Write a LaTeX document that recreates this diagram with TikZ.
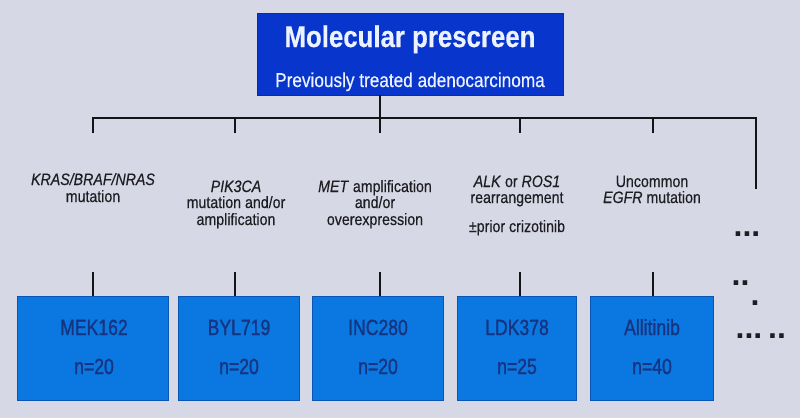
\documentclass[tikz,border=0pt]{standalone}
\usepackage{fontspec}
\setmainfont{Liberation Sans}[FakeStretch=0.86,FakeBold=0.4]
\newfontfamily\boxfont{Liberation Sans}[FakeStretch=0.8,FakeBold=1.2]
\newfontfamily\dotfont{Liberation Sans}
\definecolor{bgc}{RGB}{215,216,230}
\definecolor{topfill}{RGB}{8,54,204}
\definecolor{topline}{RGB}{20,40,150}
\definecolor{boxfill}{RGB}{10,120,224}
\definecolor{boxline}{RGB}{10,84,180}
\definecolor{boxtext}{RGB}{22,52,128}
\definecolor{titletext}{RGB}{236,242,255}
\definecolor{labtext}{RGB}{30,30,34}
\definecolor{linec}{RGB}{20,20,22}
\begin{document}
\begin{tikzpicture}[x=1pt,y=-1pt,
  topbox/.style={draw=topline,fill=topfill,line width=0.8pt,minimum width=306pt,minimum height=82pt,inner sep=0pt},
  armbox/.style={draw=boxline,fill=boxfill,line width=0.8pt,minimum height=104pt,inner sep=0pt},
  lab/.style={anchor=base,inner sep=0pt,text=labtext,font=\fontsize{16.5}{17}\selectfont},
  armtext/.style={anchor=base,inner sep=0pt,text=boxtext,font=\boxfont\fontsize{22}{22}\selectfont},
  dots/.style={anchor=base,inner sep=0pt,text=labtext,font=\dotfont\bfseries\fontsize{32}{32}\selectfont},
  bus/.style={draw=linec,line width=2pt},
  tick/.style={draw=linec,line width=2pt}]
\fill[bgc] (0,0) rectangle (800,418);
\useasboundingbox (0,0) rectangle (800,418);

% top box
\node[topbox] (top) at (410,54) {};
\node[anchor=base,inner sep=0pt,text=titletext,font=\bfseries\fontsize{30}{30}\selectfont] (title) at (410,47) {Molecular prescreen};
\node[anchor=base,inner sep=0pt,text=titletext,font=\fontsize{20}{20}\selectfont] (sub) at (410,87) {Previously treated adenocarcinoma};

% bus coordinates
\coordinate (busL) at (93,118);
\coordinate (busR) at (756,118);
\coordinate (busEnd) at (756,189);
\coordinate (s3) at (380,133);
\coordinate (t1) at (93,133);
\coordinate (t2a) at (235,118); \coordinate (t2) at (235,133);
\coordinate (t4a) at (520,118); \coordinate (t4) at (520,133);
\coordinate (t5a) at (653,118); \coordinate (t5) at (653,133);

\draw[bus,line join=miter] (t1) -- (busL) -- (busR) -- (busEnd);
\draw[tick] (s3 |- top.south) -- (s3);
\draw[tick] (t2a) -- (t2);
\draw[tick] (t4a) -- (t4);
\draw[tick] (t5a) -- (t5);

% labels
\node[lab] (l1a) at (93,185) {\textit{KRAS/BRAF/NRAS}};
\node[lab] (l1b) at (93,202) {mutation};
\node[lab] (l2a) at (236,192) {\textit{PIK3CA}};
\node[lab] (l2b) at (236,208) {mutation and/or};
\node[lab] (l2c) at (236,225) {amplification};
\node[lab] (l3a) at (375,192) {\textit{MET} amplification};
\node[lab] (l3b) at (375,208) {and/or};
\node[lab] (l3c) at (375,225) {overexpression};
\node[lab] (l4a) at (517,187) {\textit{ALK} or \textit{ROS1}};
\node[lab] (l4b) at (517,203) {rearrangement};
\node[lab] (l4c) at (517,232) {±prior crizotinib};
\node[lab] (l5a) at (652,187) {Uncommon};
\node[lab] (l5b) at (652,203) {\textit{EGFR} mutation};

% arm boxes
\node[armbox,minimum width=151pt] (b1) at (92.5,348) {};
\node[armbox,minimum width=121pt] (b2) at (238.5,348) {};
\node[armbox,minimum width=131pt] (b3) at (377.5,348) {};
\node[armbox,minimum width=119pt] (b4) at (516.5,348) {};
\node[armbox,minimum width=123pt] (b5) at (651.5,348) {};

% lower ticks
\coordinate (u1) at (93,272);
\coordinate (u2) at (235,272);
\coordinate (u3) at (380,272);
\coordinate (u4) at (520,272);
\coordinate (u5) at (653,272);
\draw[tick] (u1) -- (u1 |- b1.north);
\draw[tick] (u2) -- (u2 |- b2.north);
\draw[tick] (u3) -- (u3 |- b3.north);
\draw[tick] (u4) -- (u4 |- b4.north);
\draw[tick] (u5) -- (u5 |- b5.north);

% arm texts
\node[armtext] (m1) at (94,335) {MEK162};
\node[armtext] (n1) at (94,374) {n=20};
\node[armtext] (m2) at (239,335) {BYL719};
\node[armtext] (n2) at (239,374) {n=20};
\node[armtext] (m3) at (378,335) {INC280};
\node[armtext] (n3) at (378,374) {n=20};
\node[armtext] (m4) at (517,335) {LDK378};
\node[armtext] (n4) at (517,374) {n=25};
\node[armtext] (m5) at (652,335) {Allitinib};
\node[armtext] (n5) at (652,374) {n=40};

% dots
\node[dots] (d1) at (747,236.5) {...};
\node[dots] (d2) at (740.5,285.5) {..};
\node[dots] (d3) at (755,305.5) {.};
\node[dots] (d4) at (749,338.5) {...};
\node[dots] (d5) at (777,338.5) {..};
\end{tikzpicture}
\end{document}
